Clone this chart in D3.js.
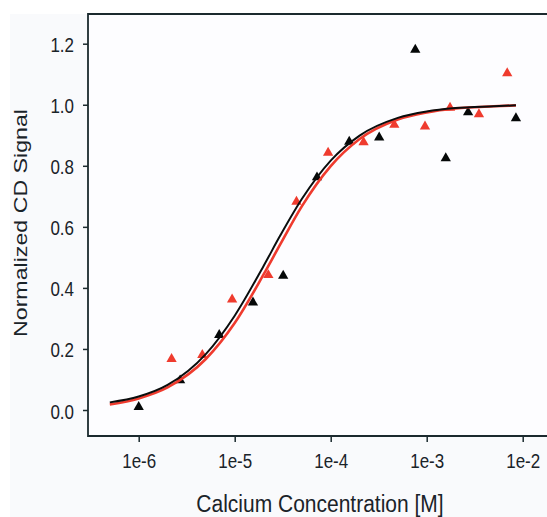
<!DOCTYPE html>
<html>
<head>
<meta charset="utf-8">
<script src="https://cdn.jsdelivr.net/npm/d3@7"></script>
<style>
  body { margin: 0; background: #ffffff; }
  svg { display: block; }
</style>
</head>
<body>
<script>
'use strict';

// measured points (calcium concentration in M, normalized CD signal)
const blackConc = [1e-6, 2.7e-6, 6.9e-6, 1.55e-5, 3.2e-5, 7.2e-5, 1.56e-4, 3.2e-4, 7.6e-4, 1.58e-3, 2.7e-3, 8.5e-3];
const blackSignal = [0.01, 0.097, 0.246, 0.352, 0.44, 0.762, 0.879, 0.893, 1.18, 0.825, 0.975, 0.956];
const redConc = [2.2e-6, 4.6e-6, 9.4e-6, 2.24e-5, 4.4e-5, 9.4e-5, 2.2e-4, 4.6e-4, 9.6e-4, 1.75e-3, 3.5e-3, 6.9e-3];
const redSignal = [0.167, 0.18, 0.362, 0.442, 0.682, 0.843, 0.877, 0.934, 0.929, 0.99, 0.969, 1.103];

// fitted curves
const fitConc = [5e-7, 1e-6, 2e-6, 5e-6, 1e-5, 2e-5, 3e-5, 5e-5, 1e-4, 2e-4, 5e-4, 1e-3, 2e-3, 5e-3, 8.5e-3];
const blackFit = [0.025, 0.044, 0.082, 0.183, 0.309, 0.472, 0.573, 0.691, 0.817, 0.899, 0.957, 0.978, 0.989, 0.995, 0.998];
const redFit = [0.018, 0.038, 0.074, 0.167, 0.285, 0.444, 0.544, 0.667, 0.799, 0.888, 0.952, 0.975, 0.988, 0.995, 0.998];

// tick labels
const xTicks = [1e-6, 1e-5, 1e-4, 1e-3, 1e-2];
const xTickLabels = ["1e-6", "1e-5", "1e-4", "1e-3", "1e-2"];
const yTicks = [0, 0.2, 0.4, 0.6, 0.8, 1.0, 1.2];

(function() {

  let svgContainer = "";
  const textColor = "#1a2329";
  const frameColor = "#1b2a2e";
  const redColor = "#ef3b2e";

  window.onload = function() {
    svgContainer = d3.select('body')
      .append('svg')
      .attr('width', 547)
      .attr('height', 517);

    // soft grey page behind the plot
    svgContainer.append('rect')
      .attr('x', 10).attr('y', 14)
      .attr('width', 537).attr('height', 503)
      .attr('fill', '#f9fafc');

    let map = drawAxes();
    plotData(map);
    makeLabels();
  };

  // scales, frame and ticks
  function drawAxes() {
    let xScale = d3.scaleLog()
      .domain([1e-6, 1e-2])
      .range([138.7, 522.7]);

    let yScale = d3.scaleLinear()
      .domain([0, 1.2])
      .range([410, 43.7]);

    // plot background
    svgContainer.append('rect')
      .attr('x', 88).attr('y', 14)
      .attr('width', 459).attr('height', 422)
      .attr('fill', '#fdfdff');

    let xAxis = d3.axisBottom(xScale)
      .tickValues(xTicks)
      .tickFormat((d, i) => xTickLabels[i])
      .tickSizeOuter(0)
      .tickSize(6);
    let gx = svgContainer.append('g')
      .attr('transform', 'translate(0, 436)')
      .call(xAxis);
    gx.select('.domain').remove();
    gx.selectAll('line').attr('stroke', frameColor).attr('stroke-width', 1.5);
    gx.selectAll('text')
      .attr('y', null).attr('dy', null)
      .attr('fill', textColor)
      .style('font-family', '"Liberation Sans", Arial, sans-serif')
      .style('font-size', '17px')
      .attr('text-anchor', 'middle')
      .attr('transform', 'translate(0, 32) scale(1, 1.15)');

    let yAxis = d3.axisLeft(yScale)
      .tickValues(yTicks)
      .tickFormat(d3.format('.1f'))
      .tickSizeOuter(0)
      .tickSize(5);
    let gy = svgContainer.append('g')
      .attr('transform', 'translate(88, 0)')
      .call(yAxis);
    gy.select('.domain').remove();
    gy.selectAll('line').attr('stroke', frameColor).attr('stroke-width', 1.5);
    gy.selectAll('text')
      .attr('x', null).attr('dy', null)
      .attr('fill', textColor)
      .style('font-family', '"Liberation Sans", Arial, sans-serif')
      .style('font-size', '17px')
      .attr('text-anchor', 'end')
      .attr('transform', 'translate(-14, 8) scale(1, 1.15)');

    // frame: left, top and bottom (right side runs off the picture)
    svgContainer.append('path')
      .attr('d', 'M547,14H88V436H547')
      .attr('fill', 'none')
      .attr('stroke', frameColor)
      .attr('stroke-width', 1.8);

    return { x: xScale, y: yScale };
  }

  // fit lines and triangles
  function plotData(map) {
    let line = d3.line()
      .x((d) => map.x(d[0]))
      .y((d) => map.y(d[1]))
      .curve(d3.curveMonotoneX);

    let tri = d3.symbol().type(d3.symbolTriangle).size(46);

    let blackPts = blackConc.map((c, i) => [c, blackSignal[i]]);
    let redPts = redConc.map((c, i) => [c, redSignal[i]]);

    svgContainer.selectAll('.redDot')
      .data(redPts)
      .enter()
      .append('path')
        .attr('class', 'redDot')
        .attr('d', tri)
        .attr('transform', (d) => 'translate(' + map.x(d[0]) + ',' + map.y(d[1]) + ')')
        .attr('fill', redColor);

    svgContainer.selectAll('.blackDot')
      .data(blackPts)
      .enter()
      .append('path')
        .attr('class', 'blackDot')
        .attr('d', tri)
        .attr('transform', (d) => 'translate(' + map.x(d[0]) + ',' + map.y(d[1]) + ')')
        .attr('fill', '#050808');

    svgContainer.append('path')
      .datum(fitConc.map((c, i) => [c, redFit[i]]))
      .attr('d', line)
      .attr('fill', 'none')
      .attr('stroke', redColor)
      .attr('stroke-width', 2.6);

    svgContainer.append('path')
      .datum(fitConc.map((c, i) => [c, blackFit[i]]))
      .attr('d', line)
      .attr('fill', 'none')
      .attr('stroke', '#0a0d0d')
      .attr('stroke-width', 2);
  }

  // axis titles
  function makeLabels() {
    svgContainer.append('text')
      .attr('transform', 'translate(320, 512) scale(1, 1.12)')
      .attr('text-anchor', 'middle')
      .attr('fill', textColor)
      .style('font-family', '"Liberation Sans", Arial, sans-serif')
      .style('font-size', '21px')
      .text('Calcium Concentration [M]');

    svgContainer.append('text')
      .attr('transform', 'translate(27, 223) rotate(-90) scale(1.22, 1)')
      .attr('text-anchor', 'middle')
      .attr('fill', textColor)
      .style('font-family', '"Liberation Sans", Arial, sans-serif')
      .style('font-size', '19px')
      .text('Normalized CD Signal');
  }

})();
</script>
</body>
</html>
